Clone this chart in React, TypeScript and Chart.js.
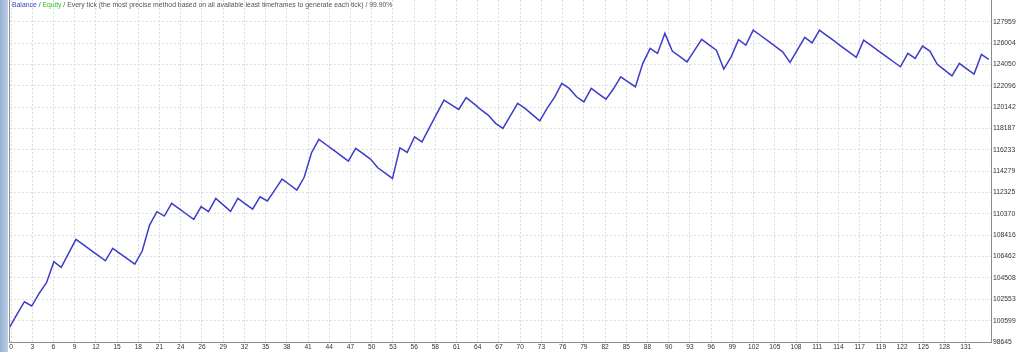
import React, { useEffect, useRef } from "react";
import { Chart, registerables } from "chart.js";

Chart.register(...registerables);

// Balance after each trade (trade number = array index)
const balance = [
  100000, 101190, 102330, 101940, 103100, 104070, 105990, 105480, 106760, 108040,
  107560, 107060, 106580, 106080, 107220, 106740, 106260, 105780, 106970, 109350,
  110570, 110170, 111340, 110850, 110360, 109870, 111030, 110570, 111790, 111200,
  110600, 111790, 111290, 110800, 111940, 111550, 112550, 113560, 113060, 112550,
  113720, 115970, 117190, 116700, 116200, 115700, 115210, 116370, 115880, 115390,
  114590, 114110, 113620, 116420, 116000, 117430, 116970, 118250, 119530, 120790,
  120360, 119940, 121020, 120490, 119920, 119420, 118660, 118200, 119340, 120490,
  120030, 119460, 118890, 120030, 121040, 122320, 121860, 121090, 120630, 121860,
  121360, 120880, 121800, 122920, 122460, 122010, 124150, 125520, 125060, 126890,
  125270, 124790, 124290, 125320, 126340, 125850, 125360, 123630, 124750, 126320,
  125820, 127190, 126700, 126200, 125700, 125210, 124240, 125380, 126530, 126030,
  127190, 126690, 126200, 125690, 125200, 124700, 126280, 125790, 125300, 124810,
  124320, 123840, 125060, 124600, 125730, 125270, 124060, 123530, 123010, 124150,
  123650, 123170, 124970, 124510,
];

const xTickLabels = [
  0, 3, 6, 9, 12, 15, 18, 21, 24, 26, 29, 32, 35, 38, 41, 44, 47, 50, 53, 56, 58, 61, 64,
  67, 70, 73, 76, 79, 82, 85, 88, 90, 93, 96, 99, 102, 105, 108, 111, 114, 117, 119, 122,
  125, 128, 131,
];

const yTickLabels = [
  98645, 100599, 102553, 104508, 106462, 108416, 110370, 112325, 114279, 116233, 118187,
  120142, 122096, 124050, 126004, 127959,
];

const titleParts = [
  { text: "Balance", color: "#3a3ad2" },
  { text: " / ", color: "#555555" },
  { text: "Equity", color: "#2fc42f" },
  {
    text: " / Every tick (the most precise method based on all available least timeframes to generate each tick) / 99.90%",
    color: "#555555",
  },
];

// axis layout (label spacing in trade units)
const X_TICK_START = 0.18;
const X_TICK_STEP = 2.882;
const FONT = "'Liberation Sans', Arial, sans-serif";

export default function App() {
  const ref = useRef<HTMLCanvasElement | null>(null);

  useEffect(() => {
    if (!ref.current) return;
    const titlePlugin = {
      id: "mtTitle",
      afterDraw(chart: any) {
        const ctx = chart.ctx;
        const area = chart.chartArea;
        ctx.save();
        ctx.strokeStyle = "#8c8c8c";
        ctx.lineWidth = 1;
        ctx.beginPath();
        ctx.moveTo(Math.round(area.left) - 0.5, area.top);
        ctx.lineTo(Math.round(area.left) - 0.5, area.bottom);
        ctx.stroke();
        ctx.font = `6.85px ${FONT}`;
        ctx.textBaseline = "middle";
        let x = 12;
        for (const p of titleParts) {
          ctx.fillStyle = p.color;
          ctx.fillText(p.text, x, 5.5);
          x += ctx.measureText(p.text).width;
        }
        ctx.restore();
      },
    };

    const chart = new Chart(ref.current, {
      type: "line",
      data: {
        datasets: [
          {
            label: "Balance",
            data: balance.map((v, i) => ({ x: i, y: v })),
            borderColor: "#3c3cc8",
            borderWidth: 1.5,
            pointRadius: 0,
            tension: 0,
            fill: false,
          },
        ],
      },
      options: {
        animation: false,
        responsive: false,
        events: [],
        layout: { padding: { left: 9.7, top: 0, right: 0, bottom: 0 } },
        plugins: { legend: { display: false }, tooltip: { enabled: false }, title: { display: false } },
        scales: {
          x: {
            type: "linear",
            min: 0,
            max: 133.3,
            afterBuildTicks: (scale: any) => {
              scale.ticks = xTickLabels.map((_, k) => ({ value: X_TICK_START + k * X_TICK_STEP }));
            },
            afterFit: (scale: any) => {
              scale.height = 10;
              scale.paddingLeft = 0;
              scale.paddingRight = 0;
            },
            ticks: {
              autoSkip: false,
              maxRotation: 0,
              padding: 1.5,
              color: "#333333",
              font: { family: FONT, size: 6.6 },
              callback: (_v: any, i: number) => String(xTickLabels[i]),
            },
            grid: { color: "#dcdcdc", drawTicks: false, lineWidth: 1 },
            border: { display: true, color: "#8c8c8c", width: 1, dash: [2, 2] },
          },
          y: {
            type: "linear",
            position: "right",
            min: 98645,
            max: 129950,
            afterBuildTicks: (scale: any) => {
              scale.ticks = yTickLabels.map((v) => ({ value: v }));
            },
            afterFit: (scale: any) => {
              scale.width = 33;
              scale.paddingTop = 0;
              scale.paddingBottom = 0;
            },
            ticks: {
              autoSkip: false,
              padding: 2,
              color: "#333333",
              font: { family: FONT, size: 6.8 },
              callback: (v: any) => String(v),
            },
            grid: { color: "#dcdcdc", drawTicks: false, lineWidth: 1 },
            border: { display: true, color: "#8c8c8c", width: 1, dash: [2, 2] },
          },
        },
      },
      plugins: [titlePlugin],
    });
    return () => chart.destroy();
  }, []);

  return (
    <div style={{ position: "absolute", left: 0, top: 0, width: 1024, height: 352, background: "#ffffff" }}>
      <div
        style={{
          position: "absolute",
          left: 0,
          top: 0,
          width: 8,
          height: 352,
          background: "linear-gradient(to right, #94afd3, #bccfe7)",
        }}
      />
      <canvas ref={ref} width={1024} height={352} style={{ position: "absolute", left: 0, top: 0, width: 1024, height: 352 }} />
    </div>
  );
}
